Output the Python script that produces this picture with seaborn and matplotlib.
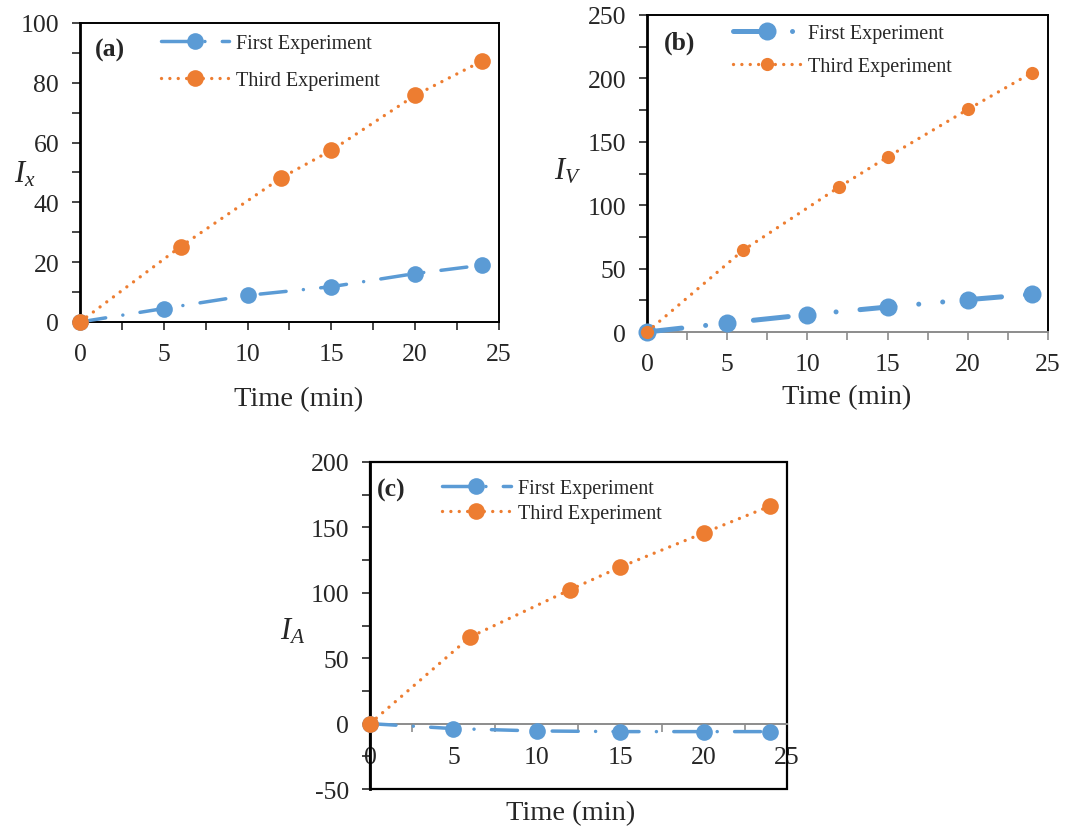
import matplotlib
matplotlib.use("Agg")
import matplotlib.pyplot as plt
import seaborn as sns
from matplotlib.ticker import MultipleLocator

# values
time_first = [0, 5, 10, 15, 20, 24]
time_third = [0, 6, 12, 15, 20, 24]

ix_first = [0, 4.5, 8.9, 11.8, 16.2, 19.0]
ix_third = [0, 25.2, 48.2, 57.4, 75.8, 87.3]

iv_first = [0, 7.1, 13.7, 19.7, 25.5, 29.7]
iv_third = [0, 64.5, 114.5, 138.0, 175.5, 204.5]

ia_first = [0, -3.8, -5.6, -6.1, -6.1, -6.1]
ia_third = [0, 66.2, 102.4, 119.7, 145.7, 166.4]

labels = ["First Experiment", "Third Experiment"]
blue = "#5B9BD5"
orange = "#ED7D31"

sns.set_style("ticks")
plt.rcParams["font.family"] = ["Liberation Serif", "DejaVu Serif"]
plt.rcParams["mathtext.fontset"] = "custom"
plt.rcParams["mathtext.rm"] = "Liberation Serif"
plt.rcParams["mathtext.it"] = "Liberation Serif:italic"
plt.rcParams["axes.unicode_minus"] = False

fig = plt.figure(figsize=(10.69, 8.29), dpi=100)
ax_a = fig.add_axes([0.0748, 0.6104, 0.392, 0.3607])
ax_b = fig.add_axes([0.6052, 0.5983, 0.3751, 0.3824])
ax_c = fig.add_axes([0.3461, 0.0470, 0.3901, 0.3945])

dashdot = (0, (7.5, 5.0, 0.01, 5.0))
dashdotdot = (0, (7, 4.8, 0.01, 4.8, 0.01, 4.8))
dotted = (0, (0.01, 2.5))


def draw(ax, yf, yt, first_ls, first_lw, first_ms, third_ms):
    sns.lineplot(x=time_first, y=yf, ax=ax, color=blue, marker="o",
                 markersize=first_ms, markeredgewidth=0, linewidth=first_lw,
                 linestyle=first_ls, dash_capstyle="round", label=labels[0],
                 clip_on=False, zorder=3)
    sns.lineplot(x=time_third, y=yt, ax=ax, color=orange, marker="o",
                 markersize=third_ms, markeredgewidth=0, linewidth=2.4,
                 linestyle=dotted, dash_capstyle="round", label=labels[1],
                 clip_on=False, zorder=4)


draw(ax_a, ix_first, ix_third, dashdot, 2.5, 12, 12)
draw(ax_b, iv_first, iv_third, dashdotdot, 3.6, 13, 9.5)
draw(ax_c, ia_first, ia_third, dashdot, 2.5, 12, 12)

settings = [
    (ax_a, (0, 100), 20, 10, r"$I_x$", (-0.131, 0.495), -0.255, 0.523, "(a)",
     (0.036, 0.913), (0.193, 0.962), 0.85),
    (ax_b, (0, 250), 50, 25, r"$I_V$", (-0.197, 0.508), -0.205, 0.498, "(b)",
     (0.042, 0.915), (0.214, 0.972), 0.7),
    (ax_c, (-50, 200), 50, 25, r"$I_A$", (-0.185, 0.483), -0.072, 0.48, "(c)",
     (0.017, 0.917), (0.173, 0.948), 0.3),
]

for (ax, ylim, major, minor, ylab, ylab_pos, xlab_y, xlab_x, tag, tag_pos,
     leg_pos, spacing) in settings:
    ax.set_xlim(0, 25)
    ax.set_ylim(*ylim)
    ax.xaxis.set_major_locator(MultipleLocator(5))
    ax.xaxis.set_minor_locator(MultipleLocator(2.5))
    ax.yaxis.set_major_locator(MultipleLocator(major))
    ax.yaxis.set_minor_locator(MultipleLocator(minor))
    ax.tick_params(axis="both", which="both", direction="out", length=6,
                   width=1.2, labelsize=18.5, pad=9, top=False, right=False)
    for side in ["top", "right", "bottom"]:
        ax.spines[side].set_visible(True)
        ax.spines[side].set_color("black")
        ax.spines[side].set_linewidth(1.4)
    ax.spines["left"].set_color("black")
    ax.spines["left"].set_linewidth(2.0)

    ax.set_ylabel(ylab, fontsize=22, rotation=0, ha="center", va="center")
    ax.yaxis.set_label_coords(*ylab_pos)
    ax.set_xlabel("Time (min)", fontsize=20.5, va="center")
    ax.xaxis.set_label_coords(xlab_x, xlab_y)

    ax.text(tag_pos[0], tag_pos[1], tag, transform=ax.transAxes,
            fontsize=18.5, fontweight="bold", ha="left", va="center")

    ax.legend(loc="upper left", bbox_to_anchor=leg_pos, frameon=False,
              fontsize=14.5, handlelength=3.4, handletextpad=0.35,
              labelspacing=spacing, borderpad=0, borderaxespad=0,
              numpoints=1)

# panel (b): grey category axis
ax_b.spines["bottom"].set_color("#8c8c8c")
ax_b.tick_params(axis="x", which="both", color="#8c8c8c")

# panel (c): x axis crosses at zero, box closed by the axes patch
ax_c.spines["bottom"].set_position(("data", 0))
ax_c.spines["bottom"].set_color("#8c8c8c")
ax_c.tick_params(axis="x", which="both", color="#8c8c8c", pad=10)
ax_c.patch.set_edgecolor("black")
ax_c.patch.set_linewidth(1.6)

fig.savefig("out.png", dpi=100)
